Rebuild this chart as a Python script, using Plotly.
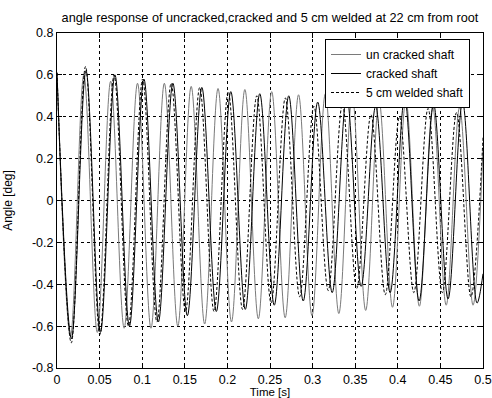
import plotly.graph_objects as go

# ---- data (extrema of each oscillation) ----
# un cracked shaft (grey solid)
t_uncracked = [0.0, 0.0158, 0.0315, 0.0473, 0.063, 0.0788, 0.0945, 0.1103, 0.126, 0.1418,
               0.1575, 0.1733, 0.189, 0.2048, 0.2205, 0.2363, 0.252, 0.2678, 0.2835, 0.2993,
               0.315, 0.3308, 0.3465, 0.3623, 0.378, 0.3938, 0.4095, 0.4253, 0.441, 0.4568,
               0.4725, 0.4883, 0.5]
a_uncracked = [0.61, -0.65, 0.60, -0.63, 0.57, -0.61, 0.56, -0.61, 0.56, -0.60,
               0.545, -0.59, 0.535, -0.58, 0.53, -0.565, 0.52, -0.56, 0.505, -0.55,
               0.51, -0.54, 0.50, -0.525, 0.475, -0.51, 0.48, -0.505, 0.445, -0.50,
               0.445, -0.50, 0.25]

# cracked shaft (black solid)
t_cracked = [0.0, 0.017, 0.034, 0.051, 0.068, 0.085, 0.102, 0.119, 0.136, 0.153,
             0.17, 0.187, 0.204, 0.221, 0.238, 0.255, 0.272, 0.289, 0.306, 0.323,
             0.34, 0.357, 0.374, 0.391, 0.408, 0.425, 0.442, 0.459, 0.476, 0.493, 0.5]
a_cracked = [0.61, -0.66, 0.62, -0.63, 0.60, -0.60, 0.58, -0.58, 0.56, -0.55,
             0.54, -0.53, 0.52, -0.52, 0.51, -0.50, 0.50, -0.48, 0.47, -0.44,
             0.50, -0.41, 0.45, -0.44, 0.49, -0.48, 0.46, -0.47, 0.47, -0.49, -0.35]

# 5 cm welded shaft (black dashed)
t_welded = [0.0, 0.0168, 0.0335, 0.0503, 0.067, 0.0838, 0.1005, 0.1173, 0.134, 0.1508,
            0.1675, 0.1843, 0.201, 0.2178, 0.2345, 0.2513, 0.268, 0.2848, 0.3015, 0.3183,
            0.335, 0.3518, 0.3685, 0.3853, 0.402, 0.4188, 0.4355, 0.4523, 0.469, 0.4858, 0.5]
a_welded = [0.61, -0.68, 0.64, -0.64, 0.60, -0.60, 0.58, -0.58, 0.56, -0.53,
            0.54, -0.53, 0.52, -0.52, 0.50, -0.49, 0.49, -0.46, 0.45, -0.43,
            0.46, -0.42, 0.41, -0.45, 0.40, -0.44, 0.44, -0.44, 0.42, -0.46, 0.30]

x_ticks = [0, 0.05, 0.1, 0.15, 0.2, 0.25, 0.3, 0.35, 0.4, 0.45, 0.5]
x_tick_labels = ["0", "0.05", "0.1", "0.15", "0.2", "0.25", "0.3", "0.35", "0.4", "0.45", "0.5"]
y_ticks = [-0.8, -0.6, -0.4, -0.2, 0, 0.2, 0.4, 0.6, 0.8]
y_tick_labels = ["-0.8", "-0.6", "-0.4", "-0.2", "0", "0.2", "0.4", "0.6", "0.8"]

FONT = "Liberation Sans, Arial, sans-serif"

W, H = 492, 398
L, R, T, B = 57, 9, 33, 30

fig = go.Figure()
fig.add_trace(go.Scatter(x=t_uncracked, y=a_uncracked, mode="lines", name="un cracked shaft",
                         line=dict(color="#7a7a7a", width=1, shape="spline")))
fig.add_trace(go.Scatter(x=t_cracked, y=a_cracked, mode="lines", name="cracked shaft",
                         line=dict(color="#000000", width=1, shape="spline")))
fig.add_trace(go.Scatter(x=t_welded, y=a_welded, mode="lines", name="5 cm welded shaft",
                         line=dict(color="#000000", width=1, shape="spline", dash="3px,2px")))

axis_common = dict(showline=True, linecolor="black", linewidth=1, mirror="ticks",
                   ticks="inside", ticklen=5, tickcolor="black", automargin=False,
                   ticklabeloverflow="allow",
                   showgrid=True, gridcolor="black", gridwidth=1, griddash="3px,3px",
                   zeroline=False, tickfont=dict(family=FONT, size=12.5, color="black"))

plot_w = W - L - R
plot_h = H - T - B

fig.update_layout(
    width=W, height=H,
    margin=dict(l=L, r=R, t=T, b=B),
    paper_bgcolor="white", plot_bgcolor="white",
    font=dict(family=FONT, size=12, color="black"),
    title=dict(text="angle response of uncracked,cracked and 5 cm welded at 22 cm from root",
               x=(L + plot_w / 2) / W, xanchor="center", y=1 - 18 / H, yanchor="middle",
               font=dict(family=FONT, size=12.7, color="black")),
    xaxis=dict(range=[0, 0.5], tickvals=x_ticks, ticktext=x_tick_labels,
               title=dict(text="Time [s]", standoff=2, font=dict(size=11.5)), **axis_common),
    yaxis=dict(range=[-0.8, 0.8], tickvals=y_ticks, ticktext=y_tick_labels,
               title=dict(text="Angle [deg]", standoff=16, font=dict(size=12)), **axis_common),
    legend=dict(x=(325 - L) / plot_w, y=(H - B - 39) / plot_h, xanchor="left", yanchor="top",
                bgcolor="white", bordercolor="black", borderwidth=1,
                font=dict(family=FONT, size=12, color="black"),
                tracegroupgap=0, itemwidth=30),
    showlegend=True,
    hovermode=False,
)

# remove the default page margin so the figure fills the window exactly
fig.write_html("out.html", config={"displayModeBar": False},
               post_script="document.body.style.margin='0';document.body.style.overflow='hidden';")
